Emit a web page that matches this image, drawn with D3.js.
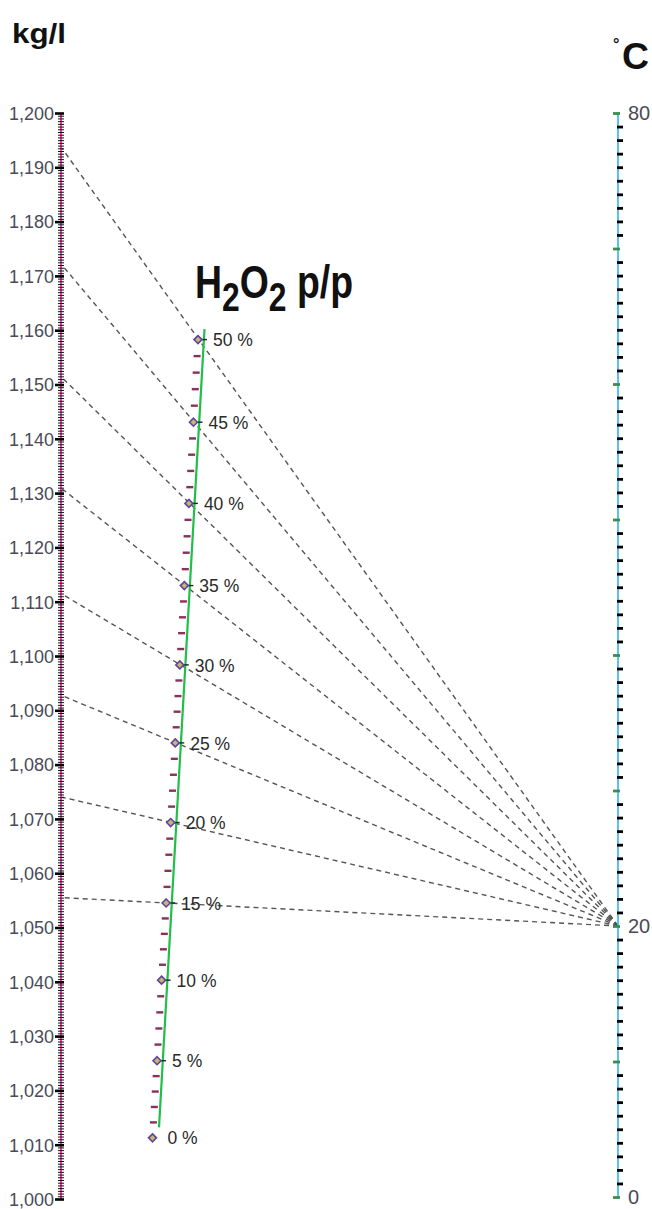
<!DOCTYPE html>
<html><head><meta charset="utf-8">
<script src="https://cdn.jsdelivr.net/npm/d3@7"></script>
<style>body{margin:0;background:#fff}svg{display:block}</style>
</head><body>
<svg id="c" width="652" height="1209"></svg>
<script>
// ---- data ----
const percents = [0, 5, 10, 15, 20, 25, 30, 35, 40, 45, 50];
const percentLabels = ["0 %", "5 %", "10 %", "15 %", "20 %", "25 %", "30 %", "35 %", "40 %", "45 %", "50 %"];
const density20 = [1.0036, 1.0203, 1.0381, 1.0555, 1.0740, 1.0927, 1.1114, 1.1308, 1.1513, 1.1720, 1.1935]; // kg/l at 20 °C
const dashedPercents = [15, 20, 25, 30, 35, 40, 45, 50];
const densityDomain = [1.000, 1.200];
const tempDomain = [0, 80];
const tempLabels = [0, 20, 80];
const refTemp = 20;

// ---- layout ----
const svg = d3.select("#c");
const FONT = "'Liberation Sans Narrow','Arial Narrow','Liberation Sans',Arial,sans-serif";
const SANS = "'Liberation Sans',Arial,sans-serif";
const X_L = 61, X_R = 618;
const yL = d3.scaleLinear().domain(densityDomain).range([1199, 113]);
const yR = d3.scaleLinear().domain(tempDomain).range([1197, 113]);
const xM = d3.scaleLinear().domain([0, 50]).range([152.5, 198]);
const locale = d3.formatLocale({decimal: ",", thousands: ".", grouping: [3], currency: ["", ""]});
const fmt = locale.format(".3f");

function midY(i) {
  const y0 = yR(refTemp), y1 = yL(density20[i]);
  return y0 + (y1 - y0) * (X_R - xM(percents[i])) / (X_R - X_L);
}
const midYs = percents.map((p, i) => midY(i));
const yMid = d3.scaleLinear().domain(percents).range(midYs);

// ---- dashed lines ----
svg.append("g").selectAll("line").data(dashedPercents).join("line")
  .attr("x1", X_R).attr("y1", yR(refTemp))
  .attr("x2", X_L + 1).attr("y2", p => yL(density20[percents.indexOf(p)]))
  .attr("stroke", "#555").attr("stroke-width", 1.4).attr("stroke-dasharray", "5,4");

// ---- left axis ----
const gL = svg.append("g").attr("transform", `translate(${X_L},0)`);
gL.append("line").attr("y1", yL(1.0)).attr("y2", yL(1.2)).attr("stroke", "#ea1a9c").attr("stroke-width", 1.6);
const minorL = d3.range(0, 401).map(i => 1 + i / 2000);
gL.append("g").call(d3.axisLeft(yL).tickValues(minorL).tickSize(6).tickFormat(""))
  .call(g => g.select(".domain").remove())
  .call(g => g.selectAll(".tick line").attr("x1", 3).attr("x2", -3).attr("stroke", "#111").attr("stroke-width", 1));
const majorL = d3.range(0, 21).map(i => 1 + i / 100);
gL.append("g").call(d3.axisLeft(yL).tickValues(majorL).tickSize(9).tickFormat(fmt))
  .call(g => g.select(".domain").remove())
  .call(g => g.selectAll(".tick line").attr("x1", 3).attr("x2", -6).attr("stroke", "#000").attr("stroke-width", 2.6))
  .call(g => g.selectAll(".tick text").attr("x", -7).attr("dy", "0.35em")
      .attr("fill", "#4a4a58").attr("font-family", FONT).attr("font-size", 18));

// ---- right axis ----
const gR = svg.append("g").attr("transform", `translate(${X_R},0)`);
gR.append("line").attr("y1", yR(0)).attr("y2", yR(80)).attr("stroke", "#2fb3f0").attr("stroke-width", 1.6);
gR.append("g").call(d3.axisRight(yR).tickValues(d3.range(0, 81).filter(v => v % 10)).tickSize(6).tickFormat(""))
  .call(g => g.select(".domain").remove())
  .call(g => g.selectAll(".tick line").attr("x1", -1).attr("x2", 5).attr("stroke", "#000").attr("stroke-width", 2.8));
gR.append("g").call(d3.axisRight(yR).tickValues(d3.range(0, 81, 10)).tickSize(6).tickFormat(""))
  .call(g => g.select(".domain").remove())
  .call(g => g.selectAll(".tick line").attr("x1", -5).attr("x2", 2).attr("stroke", "#3c8c50").attr("stroke-width", 2.8));
gR.append("g").selectAll("text").data(tempLabels).join("text")
  .attr("x", 10).attr("y", d => yR(d)).attr("dy", "0.35em")
  .attr("fill", "#4a4a58").attr("font-family", FONT).attr("font-size", 20).text(d => d);

// ---- middle scale ----
const gM = svg.append("g");
const minorM = d3.range(0, 51).filter(p => p % 5);
gM.selectAll("rect.mt").data(minorM).join("rect").attr("class", "mt")
  .attr("x", p => xM(p) - 3.5).attr("y", p => yMid(p) - 1.2).attr("width", 7).attr("height", 2.4)
  .attr("fill", "#8c2f5e");
// green line
const gOff = [6.5, -10.5];
gM.append("line")
  .attr("x1", xM(0) + gOff[0]).attr("y1", midYs[0] + gOff[1])
  .attr("x2", xM(50) + gOff[0]).attr("y2", midYs[10] + gOff[1])
  .attr("stroke", "#1fbf4a").attr("stroke-width", 2.2);
// small black ticks at points
gM.selectAll("line.pt").data(percents.slice(1)).join("line").attr("class", "pt")
  .attr("x1", p => xM(p) + 4).attr("x2", p => xM(p) + 9)
  .attr("y1", p => yMid(p)).attr("y2", p => yMid(p))
  .attr("stroke", "#222").attr("stroke-width", 1.4);
// diamonds
gM.selectAll("path.dm").data(percents).join("path").attr("class", "dm")
  .attr("transform", p => `translate(${xM(p)},${yMid(p)})`)
  .attr("d", "M0,-4L4,0L0,4L-4,0Z")
  .attr("fill", "#c9b66a").attr("stroke", "#5e45a0").attr("stroke-width", 1.6);
// labels
gM.selectAll("text.pl").data(percents).join("text").attr("class", "pl")
  .attr("x", p => xM(p) + 15).attr("y", p => yMid(p)).attr("dy", "0.38em")
  .attr("fill", "#2a2a2a").attr("font-family", SANS).attr("font-size", 17.5)
  .text((p, i) => percentLabels[i]);

// ---- titles ----
svg.append("text").attr("x", 12).attr("y", 43).attr("font-family", SANS)
  .attr("font-weight", "bold").attr("font-size", 28).attr("fill", "#111")
  .attr("textLength", 54).attr("lengthAdjust", "spacingAndGlyphs").text("kg/l");
svg.append("text").attr("x", 613).attr("y", 50).attr("font-family", SANS)
  .attr("font-weight", "bold").attr("font-size", 16).attr("fill", "#111").text("°");
svg.append("text").attr("x", 622).attr("y", 69).attr("font-family", SANS)
  .attr("font-weight", "bold").attr("font-size", 36).attr("fill", "#111")
  .attr("textLength", 27).attr("lengthAdjust", "spacingAndGlyphs").text("C");
const t = svg.append("text").attr("x", 195).attr("y", 298).attr("font-family", FONT)
  .attr("font-weight", "bold").attr("font-size", 47).attr("fill", "#111")
  .attr("textLength", 158).attr("lengthAdjust", "spacingAndGlyphs");
t.append("tspan").text("H");
t.append("tspan").attr("font-size", 40).attr("dy", 13).text("2");
t.append("tspan").attr("dy", -13).text("O");
t.append("tspan").attr("font-size", 40).attr("dy", 13).text("2");
t.append("tspan").attr("dy", -13).text(" p/p");
</script>
</body></html>
